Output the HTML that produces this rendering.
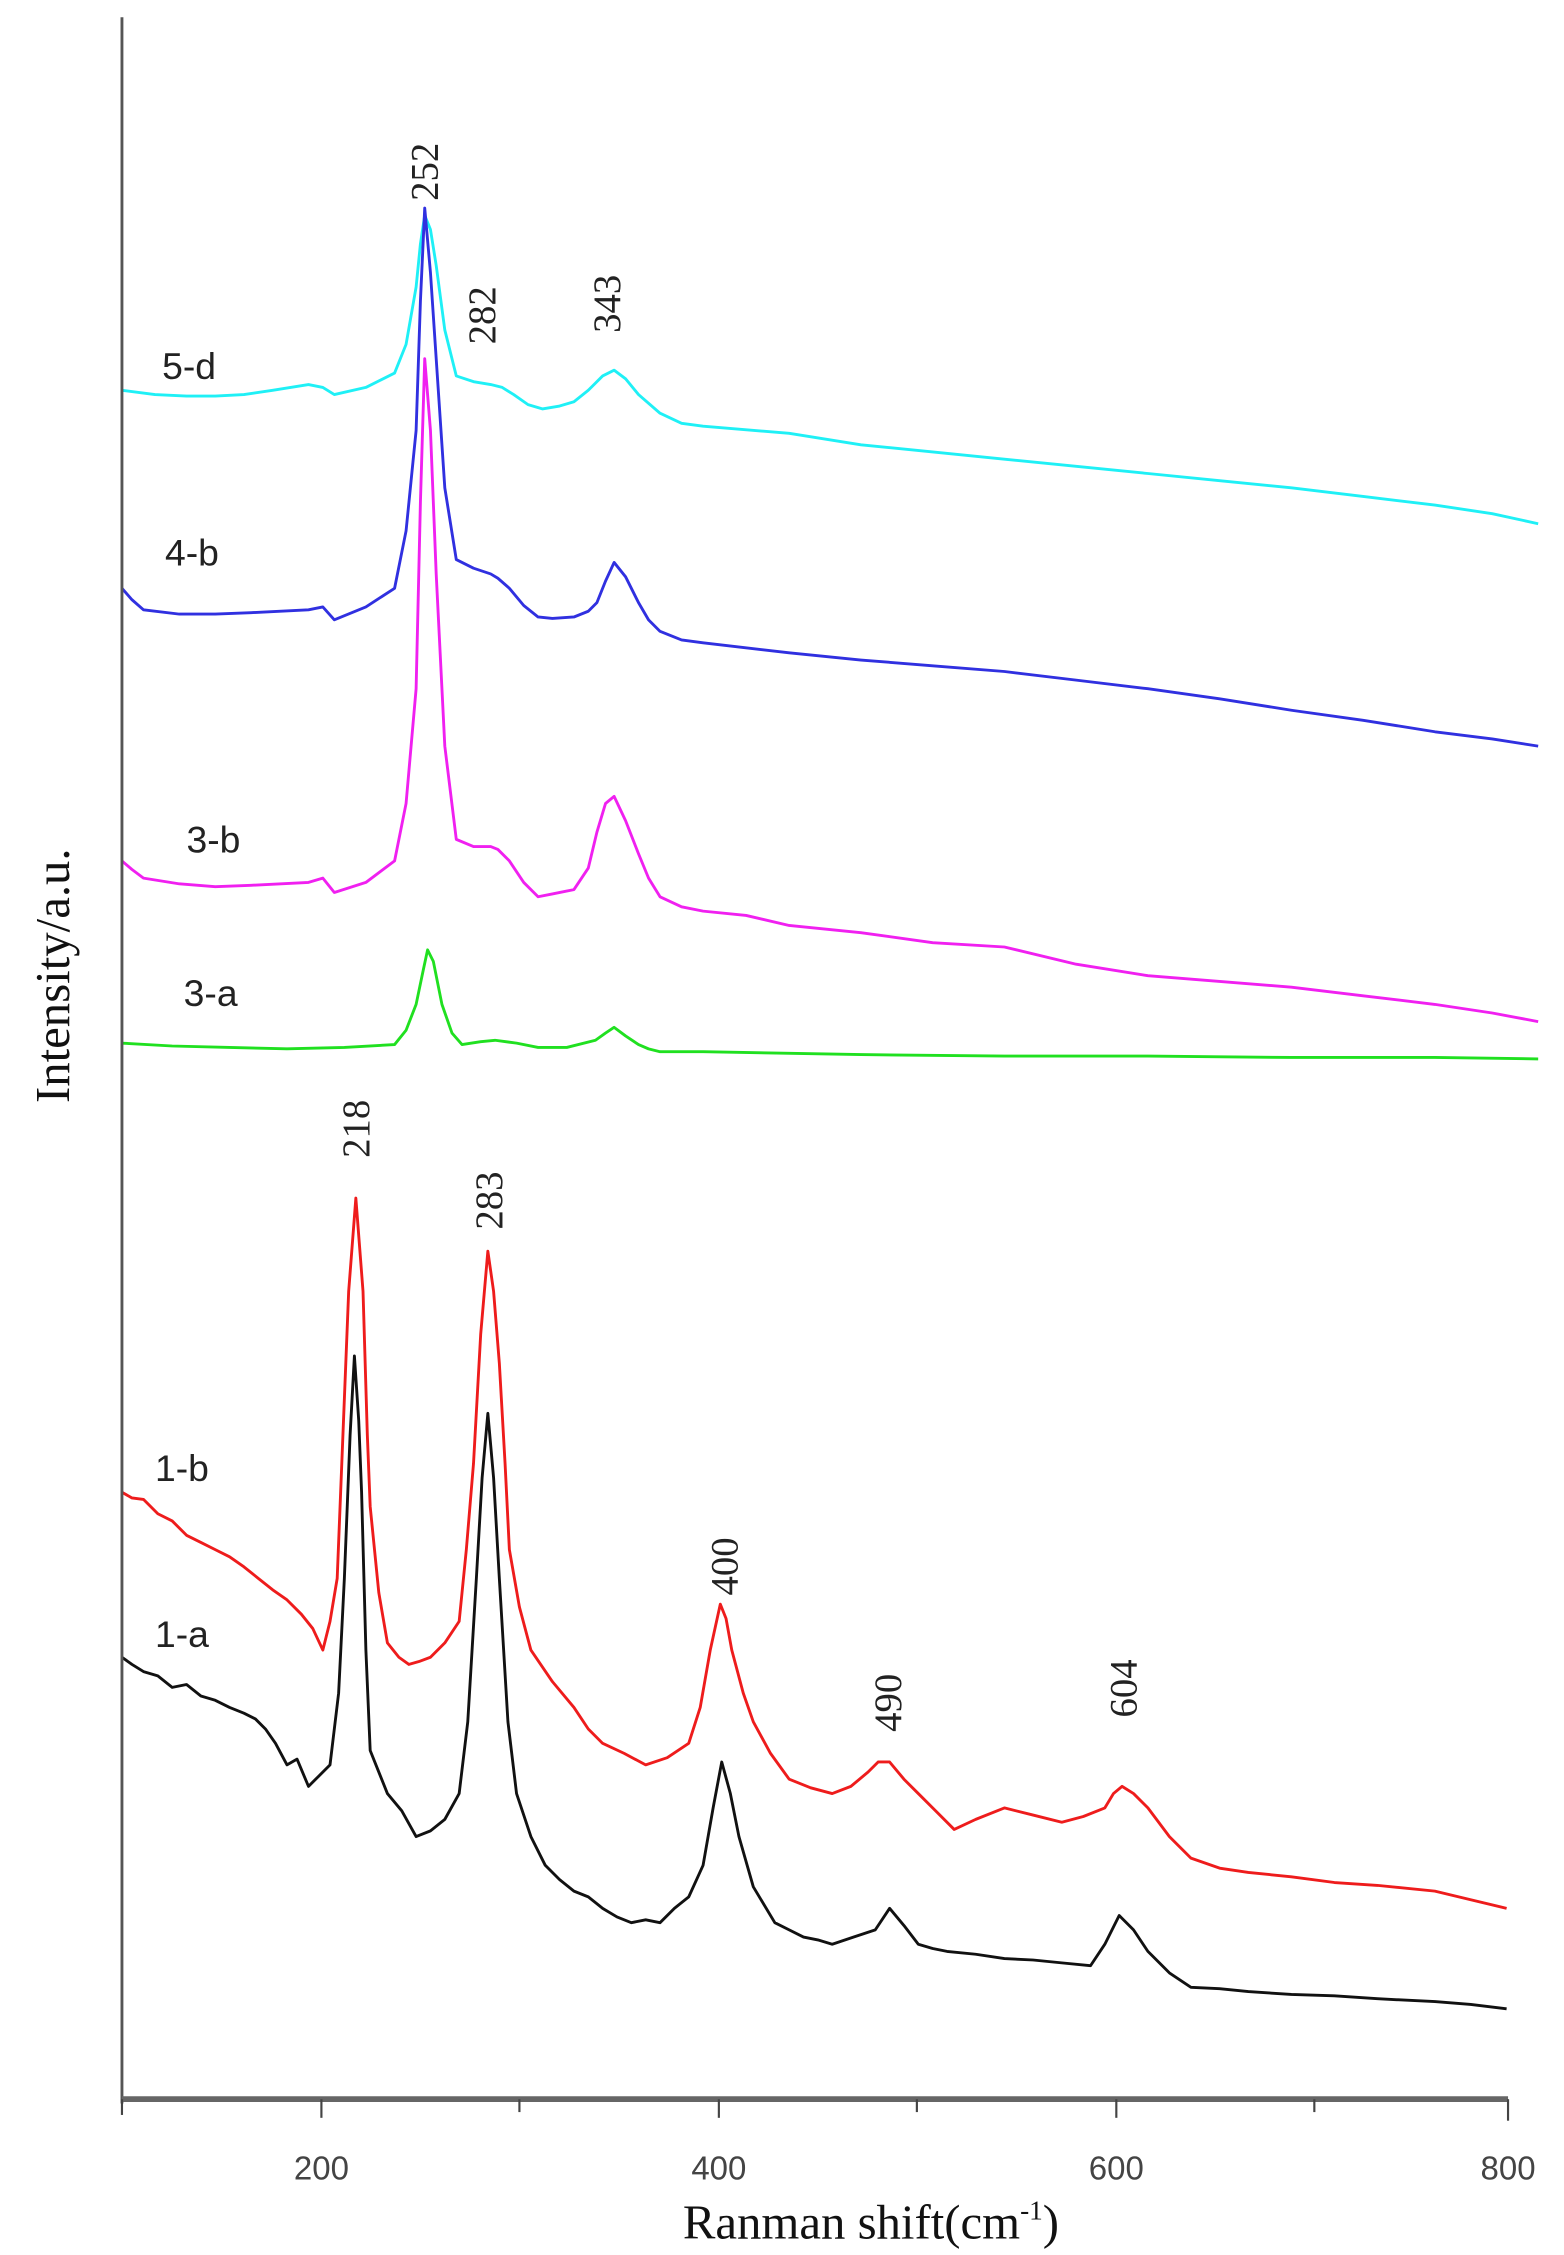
<!DOCTYPE html>
<html><head><meta charset="utf-8"><style>
html,body{margin:0;padding:0;background:#fff;}
svg{display:block;}
</style></head><body>
<svg width="1564" height="2255" viewBox="0 0 1090 1571.6" preserveAspectRatio="none" xmlns="http://www.w3.org/2000/svg">
<rect width="1090" height="1571.6" fill="#fff"/>
<g fill="none" stroke-width="2" stroke-linejoin="round">
<polyline stroke="#111" points="85,1155 92,1160 100,1165 110,1168 120,1176 130,1174 140,1182 150,1185 160,1190 170,1194 178,1198 185,1205 192,1215 200,1230 207,1226 215,1245 222,1238 230,1230 236,1180 240,1100 244,1000 247,945 250,990 252,1040 255,1150 258,1220 264,1235 270,1250 280,1262 290,1280 300,1276 310,1268 320,1250 326,1200 332,1100 336,1030 340,985 344,1030 348,1100 354,1200 360,1250 370,1280 380,1300 390,1310 400,1318 410,1322 420,1330 430,1336 440,1340 450,1338 460,1340 470,1330 480,1322 490,1300 497,1260 503,1228 509,1250 515,1280 525,1315 540,1340 550,1345 560,1350 570,1352 580,1355 595,1350 610,1345 620,1330 630,1342 640,1355 650,1358 660,1360 680,1362 700,1365 720,1366 740,1368 760,1370 770,1355 780,1335 790,1345 800,1360 815,1375 830,1385 850,1386 870,1388 900,1390 930,1391 960,1393 1000,1395 1025,1397 1050,1400"/>
<polyline stroke="#ee1c1c" points="85,1040 92,1044 100,1045 110,1055 120,1060 130,1070 140,1075 150,1080 160,1085 170,1092 180,1100 190,1108 200,1115 210,1125 218,1135 225,1150 230,1130 235,1100 239,1000 243,900 248,835 253,900 256,1000 258,1050 264,1110 270,1145 278,1155 285,1160 292,1158 300,1155 310,1145 320,1130 325,1080 330,1020 335,930 340,872 344,900 348,950 352,1020 355,1080 362,1120 370,1150 385,1172 400,1190 410,1205 420,1215 435,1222 450,1230 465,1225 480,1215 488,1190 495,1150 502,1118 506,1128 510,1150 518,1180 525,1200 537,1222 550,1240 565,1246 580,1250 593,1245 605,1235 612,1228 620,1228 630,1240 640,1250 652,1262 665,1275 680,1268 700,1260 720,1265 740,1270 755,1266 770,1260 776,1250 782,1245 790,1250 800,1260 815,1280 830,1295 850,1302 870,1305 900,1308 930,1312 960,1314 1000,1318 1025,1324 1050,1330"/>
<polyline stroke="#20e020" points="85,727 120,729 160,730 200,731 240,730 275,728 283,718 290,700 295,676 298,662 302,670 308,700 315,720 322,728 335,726 345,725 360,727 375,730 395,730 415,725 422,720 428,716 436,722 445,728 452,731 460,733 490,733 600,735 700,736 800,736 900,737 1000,737 1072,738"/>
<polyline stroke="#f020f0" points="85,600 92,606 100,612 125,616 150,618 175,617 215,615 225,612 233,622 255,615 275,600 283,560 290,480 293,350 296,250 300,300 304,400 310,520 318,585 330,590 342,590 347,592 355,600 365,615 375,625 385,623 400,620 410,605 416,580 422,560 428,555 436,572 445,595 452,612 460,625 475,632 490,635 520,638 550,645 600,650 650,657 700,660 750,672 800,680 850,684 900,688 950,694 1000,700 1040,706 1072,712"/>
<polyline stroke="#1ff0f6" points="85,272 108,275 130,276 150,276 170,275 190,272 215,268 225,270 233,275 255,270 275,260 283,240 290,200 293,170 296,150 300,160 304,185 310,230 318,262 330,266 342,268 350,270 358,275 368,282 378,285 390,283 400,280 410,272 420,262 428,258 436,264 445,275 460,288 475,295 490,297 550,302 600,310 650,315 700,320 750,325 800,330 850,335 900,340 950,346 1000,352 1040,358 1072,365"/>
<polyline stroke="#3030e0" points="85,410 92,418 100,425 125,428 150,428 175,427 215,425 225,423 233,432 255,423 275,410 283,370 290,300 293,210 296,145 300,190 304,250 310,340 318,390 330,396 342,400 347,403 355,410 365,422 375,430 385,431 400,430 410,426 416,420 422,405 428,392 436,402 445,420 452,432 460,440 475,446 490,448 550,455 600,460 650,464 700,468 750,474 800,480 850,487 900,495 950,502 1000,510 1040,515 1072,520"/>
</g>
<line x1="85" y1="12" x2="85" y2="1466" stroke="#555" stroke-width="2"/>
<line x1="85" y1="1463" x2="1051" y2="1463" stroke="#666" stroke-width="4"/>
<g stroke="#444" stroke-width="1.5">
<line x1="85" y1="1463" x2="85" y2="1474"/>
<line x1="224" y1="1463" x2="224" y2="1476"/>
<line x1="362" y1="1463" x2="362" y2="1472"/>
<line x1="501" y1="1463" x2="501" y2="1476"/>
<line x1="639" y1="1463" x2="639" y2="1472"/>
<line x1="778" y1="1463" x2="778" y2="1476"/>
<line x1="916" y1="1463" x2="916" y2="1472"/>
<line x1="1051" y1="1463" x2="1051" y2="1478"/>
</g>
<g font-family="Liberation Sans, sans-serif" font-size="23" fill="#444" text-anchor="middle">
<text x="224" y="1519">200</text><text x="501" y="1519">400</text><text x="778" y="1519">600</text><text x="1051" y="1519">800</text>
</g>
<text x="607" y="1560" font-family="Liberation Serif, serif" font-size="34" text-anchor="middle" fill="#111">Ranman shift(cm<tspan font-size="19" dy="-13">-1</tspan><tspan dy="13">)</tspan></text>
<text transform="translate(48,680) rotate(-90)" font-family="Liberation Serif, serif" font-size="34" text-anchor="middle" fill="#111">Intensity/a.u.</text>
<g font-family="Liberation Sans, sans-serif" font-size="26" fill="#222">
<text x="113" y="264">5-d</text><text x="115" y="394">4-b</text><text x="130" y="594">3-b</text><text x="128" y="701">3-a</text>
<text x="108" y="1032">1-b</text><text x="108" y="1148">1-a</text>
</g>
<g font-family="Liberation Serif, serif" font-size="27" fill="#222">
<text transform="translate(305,140) rotate(-90)">252</text>
<text transform="translate(345,240) rotate(-90)">282</text>
<text transform="translate(432,232) rotate(-90)">343</text>
<text transform="translate(257,807) rotate(-90)">218</text>
<text transform="translate(350,857) rotate(-90)">283</text>
<text transform="translate(514,1112) rotate(-90)">400</text>
<text transform="translate(628,1207) rotate(-90)">490</text>
<text transform="translate(792,1197) rotate(-90)">604</text>
</g>
</svg>
</body></html>
